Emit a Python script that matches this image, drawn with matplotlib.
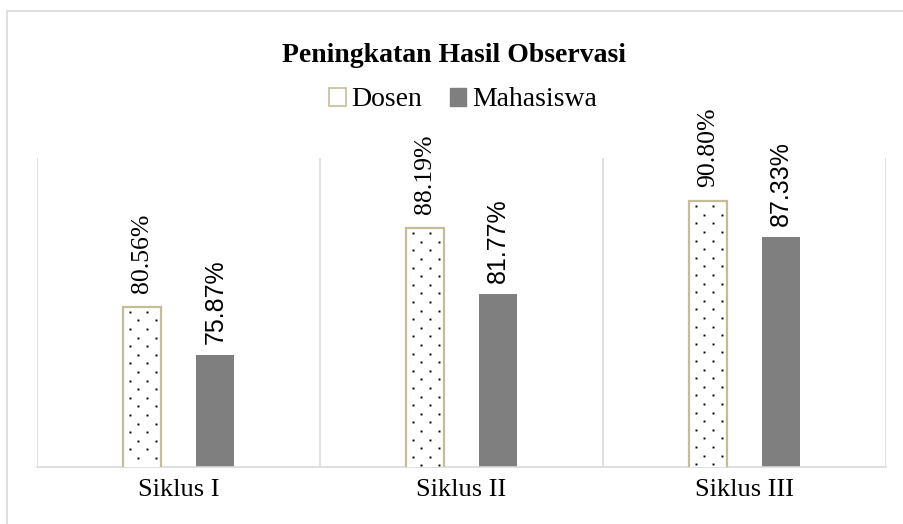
import matplotlib.pyplot as plt
import numpy as np
from matplotlib.patches import Patch, Rectangle
from matplotlib.transforms import IdentityTransform

# Data
siklus = ["Siklus I", "Siklus II", "Siklus III"]
dosen = [80.56, 88.19, 90.80]
mahasiswa = [75.87, 81.77, 87.33]

warna_garis = "#d9d9d9"
warna_tan = "#c4bd97"
warna_abu = "#7f7f7f"

plt.rcParams['font.family'] = ['Liberation Serif', 'DejaVu Serif']

fig = plt.figure(figsize=(9.04, 5.24), dpi=100)
ax = fig.add_axes([37 / 904, 1 - 467 / 524, (886 - 37) / 904, (467 - 158) / 524])

# Frame luar chart
fig.patches.append(Rectangle((7 / 904, -0.5), 2, 1.5 - 11 / 524,
                             transform=fig.transFigure, fill=False,
                             edgecolor=warna_garis, linewidth=1.2))

x = np.arange(len(siklus))
lebar = 0.134
off = 0.13

ax.set_ylim(65, 95)
ax.set_xlim(-0.5, 2.5)

# Dosen: latar putih, pola titik, garis tepi tan
bars_dosen = ax.bar(x - off, dosen, lebar, color="white", edgecolor=warna_tan,
                    linewidth=1.6, zorder=3)
ax.bar(x + off, mahasiswa, lebar, color=warna_abu, zorder=2)

# pola titik (dotted 10%) dalam piksel, dipotong oleh batang
jarak = 8.6
y_bawah = ax.transAxes.transform((0, 0))[1]
for b in bars_dosen:
    (px0, py0), (px1, py1) = ax.transData.transform([(b.get_x(), b.get_y()),
                                                      (b.get_x() + b.get_width(), b.get_y() + b.get_height())])
    py0 = max(py0, y_bawah)
    xs, ys = [], []
    k = 0
    yy = py1 - 5
    while yy > py0 + 1:
        xx = px0 + 7 + (k % 2) * jarak
        while xx < px1 - 2:
            xs.append(xx)
            ys.append(yy)
            xx += 2 * jarak
        yy -= jarak
        k += 1
    ax.plot(xs, ys, linestyle="none", marker="s", ms=1.4, mew=0,
            color="black", transform=IdentityTransform(), zorder=3.5)

# Garis pemisah kategori
for xv in [-0.5, 0.5, 1.5, 2.5]:
    ax.axvline(xv, color=warna_garis, linewidth=1.2, zorder=1)

for s in ["top", "right", "left"]:
    ax.spines[s].set_visible(False)
ax.spines["bottom"].set_color(warna_garis)
ax.spines["bottom"].set_linewidth(1.2)

ax.set_yticks([])
ax.set_xticks(x)
ax.set_xticklabels(siklus, fontsize=19)
ax.tick_params(axis="x", length=0, pad=9)

# Label nilai
for xi, v in zip(x, dosen):
    ax.annotate(f"{v:.2f}%", (xi - off, v), xytext=(0, 10), textcoords="offset points",
                rotation=90, ha="center", va="bottom", fontsize=18.5)
for xi, v in zip(x, mahasiswa):
    ax.annotate(f"{v:.2f}%", (xi + off, v), xytext=(0, 8), textcoords="offset points",
                rotation=90, ha="center", va="bottom", fontsize=18,
                family=["Liberation Sans", "DejaVu Sans"])

fig.text(0.502, 1 - 56 / 524, "Peningkatan Hasil Observasi", ha="center", va="center",
         fontsize=20, fontweight="bold")

handles = [Patch(facecolor="white", edgecolor=warna_tan, linewidth=1.2),
           Patch(facecolor=warna_abu, edgecolor=warna_abu)]
fig.legend(handles, ["Dosen", "Mahasiswa"], loc="center", bbox_to_anchor=(0.512, 1 - 100 / 524),
           ncol=2, frameon=False, fontsize=20, handlelength=0.6, handleheight=0.6,
           handletextpad=0.2, columnspacing=1.0)

fig.savefig("out.png", dpi=100)
